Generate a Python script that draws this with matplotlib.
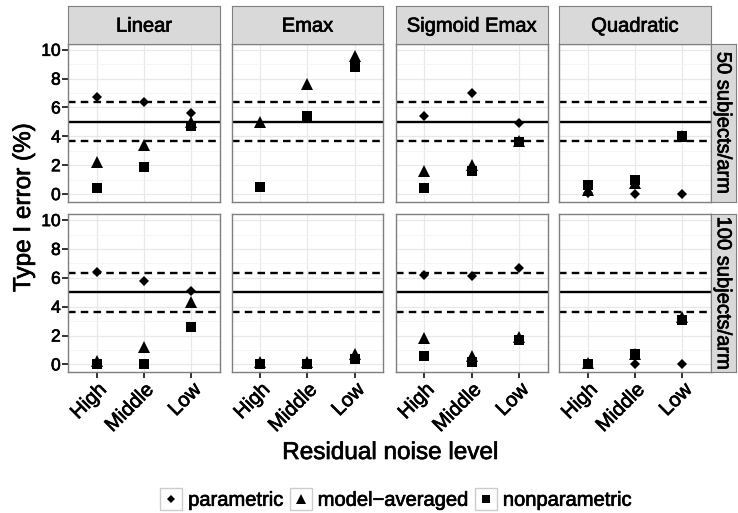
import matplotlib
matplotlib.use("Agg")
import matplotlib.pyplot as plt
import matplotlib.patheffects as pe
from matplotlib.lines import Line2D
from matplotlib.patches import Rectangle
from matplotlib.legend_handler import HandlerBase
from matplotlib.text import Text
import numpy as np

plt.rcParams['font.family'] = ['Liberation Sans', 'DejaVu Sans']

models = ['Linear', 'Emax', 'Sigmoid Emax', 'Quadratic']
sizes = ['50 subjects/arm', '100 subjects/arm']
noise = ['High', 'Middle', 'Low']

# Type I error (%) per noise level (High, Middle, Low); NaN = not available
param_50 = {
    'Linear': [6.7, 6.4, 5.6],
    'Emax': [np.nan, np.nan, np.nan],
    'Sigmoid Emax': [5.4, 7.0, 4.9],
    'Quadratic': [0.05, 0.0, 0.0],
}
avg_50 = {
    'Linear': [2.2, 3.4, 5.0],
    'Emax': [5.0, 7.6, 9.6],
    'Sigmoid Emax': [1.6, 2.0, 3.7],
    'Quadratic': [0.3, 0.8, 4.0],
}
nonpar_50 = {
    'Linear': [0.4, 1.9, 4.7],
    'Emax': [0.5, 5.4, 8.8],
    'Sigmoid Emax': [0.4, 1.6, 3.6],
    'Quadratic': [0.6, 1.0, 4.0],
}
param_100 = {
    'Linear': [6.4, 5.8, 5.1],
    'Emax': [np.nan, np.nan, np.nan],
    'Sigmoid Emax': [6.2, 6.1, 6.7],
    'Quadratic': [0.0, 0.0, 0.0],
}
avg_100 = {
    'Linear': [0.2, 1.2, 4.3],
    'Emax': [0.15, 0.15, 0.7],
    'Sigmoid Emax': [1.8, 0.6, 1.9],
    'Quadratic': [0.1, 0.75, 3.3],
}
nonpar_100 = {
    'Linear': [0.05, 0.0, 2.6],
    'Emax': [0.0, 0.0, 0.35],
    'Sigmoid Emax': [0.6, 0.15, 1.7],
    'Quadratic': [0.0, 0.7, 3.1],
}

nominal = 5.0
band = [3.65, 6.35]

W, H = 738, 513
fig = plt.figure(figsize=(W / 100, H / 100), dpi=100)

col_left = [68.3, 231.7, 396.0, 559.3]
panel_w = 151.5
row_top = [44.0, 214.3]
panel_h = 158.0

border = '#7f7f7f'
strip_fill = '#d9d9d9'
xs = np.arange(1, 4)

series = [
    (param_50, param_100, 'D', 4.8),
    (avg_50, avg_100, '^', 8.8),
    (nonpar_50, nonpar_100, 's', 6.8),
]

for r in range(2):
    for c, model in enumerate(models):
        left = col_left[c] / W
        bottom = 1 - (row_top[r] + panel_h) / H
        ax = fig.add_axes([left, bottom, panel_w / W, panel_h / H])
        ax.set_xlim(0.4, 3.6)
        ax.set_ylim(-0.55, 10.4)
        ax.set_yticks([0, 2, 4, 6, 8, 10])
        ax.set_yticks([1, 3, 5, 7, 9], minor=True)
        ax.set_xticks(xs)
        ax.grid(which='major', color='#e8e8e8', lw=0.9)
        ax.grid(which='minor', axis='y', color='#f4f4f4', lw=0.6)
        ax.set_axisbelow(True)
        for s in ax.spines.values():
            s.set_color(border)
            s.set_linewidth(1.0)
        ax.tick_params(which='minor', length=0)
        ax.tick_params(which='major', length=4, width=1.3, color='#222222',
                       labelsize=12.5, pad=1.5)

        ax.axhline(nominal, color='black', lw=1.7, zorder=1.5)
        for b in band:
            ax.axhline(b, color='black', lw=1.7, ls=(0, (3.2, 2.2)), zorder=1.5)

        for d50, d100, mk, ms in series:
            vals = (d50 if r == 0 else d100)[model]
            ax.plot(xs, vals, ls='none', marker=mk, ms=ms, color='black',
                    markeredgewidth=0, zorder=3, clip_on=False)

        if c > 0:
            ax.tick_params(axis='y', labelleft=False, length=0)
        if r == 0:
            ax.tick_params(axis='x', labelbottom=False, length=0)
            # strip with model name
            sax = fig.add_axes([left, 1 - row_top[0] / H, panel_w / W, 38 / H])
            sax.set_facecolor(strip_fill)
            sax.set_xticks([])
            sax.set_yticks([])
            for s in sax.spines.values():
                s.set_color(border)
            sax.text(0.5, 0.47, model, ha='center', va='center', fontsize=14.5,
                     transform=sax.transAxes)
        else:
            ax.set_xticklabels(noise, rotation=45, ha='right', va='top',
                               rotation_mode='anchor', fontsize=14.5)

        if c == 3:
            rax = fig.add_axes([(col_left[3] + panel_w) / W, bottom, 25 / W, panel_h / H])
            rax.set_facecolor(strip_fill)
            rax.set_xticks([])
            rax.set_yticks([])
            for s in rax.spines.values():
                s.set_color(border)
            rax.text(0.5, 0.5, sizes[r], ha='center', va='center', rotation=-90,
                     fontsize=14.5, transform=rax.transAxes)

fig.text(24 / W, 1 - 208 / H, 'Type I error (%)', rotation=90, ha='center',
         va='center', fontsize=17.5)
fig.text(390 / W, 1 - 453 / H, 'Residual noise level', ha='center',
         va='center', fontsize=17.5)


class BoxedMarker(HandlerBase):
    """Legend key: marker inside a light grey framed square."""

    def create_artists(self, legend, orig_handle, xdescent, ydescent,
                       width, height, fontsize, trans):
        side = min(width, height)
        x0 = -xdescent + (width - side) / 2
        y0 = -ydescent + (height - side) / 2
        box = Rectangle((x0, y0), side, side, facecolor='white',
                        edgecolor='#cccccc', lw=1.0, transform=trans)
        mark = Line2D([x0 + side / 2], [y0 + side / 2], ls='none',
                      marker=orig_handle.get_marker(),
                      ms=orig_handle.get_markersize(), color='black', mew=0)
        mark.set_transform(trans)
        return [box, mark]


handles = [
    Line2D([], [], ls='none', marker='D', ms=4.2),
    Line2D([], [], ls='none', marker='^', ms=7.5),
    Line2D([], [], ls='none', marker='s', ms=5.8),
]
leg = fig.legend(handles, ['parametric', 'model\u2212averaged', 'nonparametric'],
                 loc='center', bbox_to_anchor=(395 / W, 1 - 499 / H), ncol=3,
                 frameon=False, fontsize=14.5, handlelength=1.29,
                 handleheight=1.29, handletextpad=0.2, columnspacing=0.2,
                 borderpad=0, handler_map={Line2D: BoxedMarker()})

# slightly heavier glyphs for all labels
for t in fig.findobj(Text):
    t.set_path_effects([pe.withStroke(linewidth=0.5, foreground='black')])

fig.savefig('out.png', dpi=100)
